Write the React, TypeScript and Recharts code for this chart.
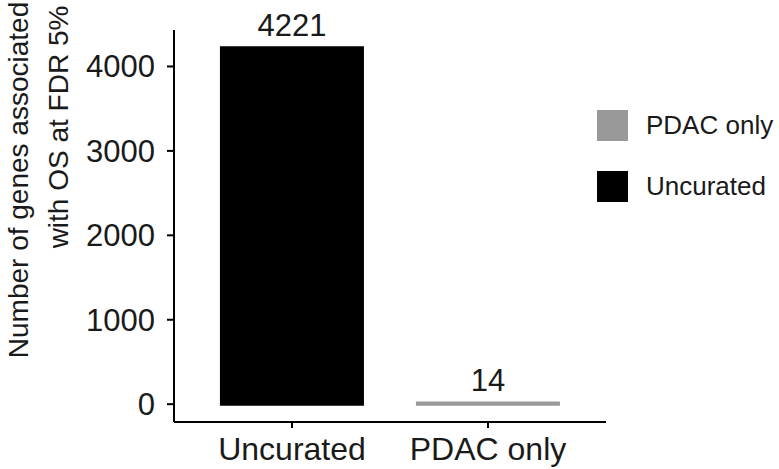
import { BarChart, Bar, XAxis, YAxis, Cell, LabelList, Label } from 'recharts'

const categories = ['Uncurated', 'PDAC only']
const geneCounts = [4221, 14]
const barColors = ['#000000', '#999999']
const yTicks = [0, 1000, 2000, 3000, 4000]
const legendOrder = ['PDAC only', 'Uncurated']
const yTitleLines = ['Number of genes associated', 'with OS at FDR 5%']

const font = '"Liberation Sans", Arial, Helvetica, sans-serif'
const ink = '#1a1a1a'

function LegendBox() {
  return (
    <div style={{ position: 'absolute', left: 597, top: 110, fontFamily: font, fontSize: 26, color: ink }}>
      {legendOrder.map(name => (
        <div key={name} style={{ display: 'flex', alignItems: 'center', height: 31, marginBottom: 30 }}>
          <div style={{ width: 31, height: 31, background: barColors[categories.indexOf(name)] }} />
          <span style={{ marginLeft: 18 }}>{name}</span>
        </div>
      ))}
    </div>
  )
}

function YTitle() {
  return (
    <g fontFamily={font} fontSize={28} fill={ink}>
      <text x={28} y={180} textAnchor='middle' transform='rotate(-90 28 180)'>{yTitleLines[0]}</text>
      <text x={68} y={127} textAnchor='middle' transform='rotate(-90 68 127)'>{yTitleLines[1]}</text>
    </g>
  )
}

export default function App() {
  const data = categories.map((name, i) => ({ name, count: geneCounts[i] }))

  return (
    <div style={{ position: 'absolute', left: 0, top: 0, width: 779, height: 469, background: '#fff' }}>
      <BarChart
        width={779}
        height={469}
        data={data}
        margin={{ top: 30, right: 173, bottom: 0, left: 0 }}
        barCategoryGap='14%'
      >
        <XAxis
          dataKey='name'
          height={47}
          interval={0}
          padding={{ left: 20, right: 20 }}
          axisLine={{ stroke: '#000', strokeWidth: 2 }}
          tickLine={{ stroke: '#000', strokeWidth: 2 }}
          tickSize={6}
          tickMargin={9}
          tick={{ fill: ink, fontSize: 32, fontFamily: font }}
        />
        <YAxis
          width={174}
          domain={[-211, 4432]}
          ticks={yTicks}
          allowDataOverflow
          axisLine={{ stroke: '#000', strokeWidth: 2 }}
          tickLine={{ stroke: '#000', strokeWidth: 2 }}
          tickSize={7}
          tickMargin={12}
          tick={{ fill: ink, fontSize: 31, fontFamily: font }}
        >
          <Label content={() => <YTitle />} />
        </YAxis>
        <Bar dataKey='count' isAnimationActive={false} strokeWidth={3}>
          {data.map((d, i) => (
            <Cell key={d.name} fill={barColors[i]} stroke={barColors[i]} />
          ))}
          <LabelList dataKey='count' position='top' offset={12} fill={ink} fontSize={31} fontFamily={font} />
        </Bar>
      </BarChart>
      <LegendBox />
    </div>
  )
}
